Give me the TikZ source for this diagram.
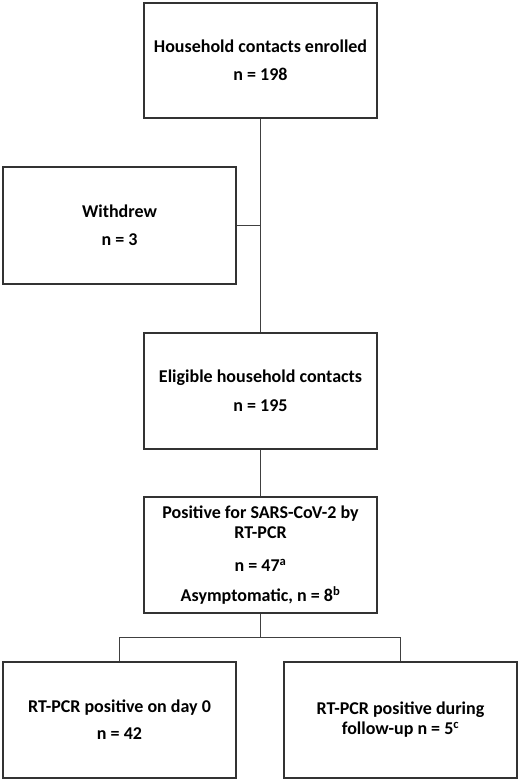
\documentclass[tikz,border=0pt]{standalone}
\usepackage{fontspec}
\setmainfont{Carlito}
\usetikzlibrary{calc}
\tikzset{
  flowbox/.style={draw=black!80, line width=1.3pt, minimum width=233pt, minimum height=116pt,
    inner sep=0pt, align=center, font=\fontsize{18}{20}\selectfont\bfseries},
  conn/.style={draw=black!75, line width=1.3pt}
}
\begin{document}
\begin{tikzpicture}[x=1pt,y=-1pt]
\useasboundingbox[fill=white] (0,0) rectangle (520,782);
\node[flowbox, minimum height=115pt] (b1) at (260.5,60.5) {Household contacts enrolled\\[8pt] n = 198};
\node[flowbox, minimum height=117pt] (b2) at (119.5,225.5) {Withdrew\\[8pt] n = 3};
\node[flowbox] (b3) at (260.5,391) {Eligible household contacts\\[9pt] n = 195};
\node[flowbox] (b4) at (260.5,555) {Positive for SARS-CoV-2 by\\ RT-PCR\\[13pt] n = 47\textsuperscript{a}\\[10pt] Asymptomatic, n = 8\textsuperscript{b}};
\node[flowbox] (b5) at (119.5,720) {RT-PCR positive on day 0\\[7pt] n = 42};
\node[flowbox] (b6) at (400.5,720) {RT-PCR positive during\\ follow-up n = 5\textsuperscript{c}};
\coordinate (j) at ($(b4.south)+(0,24)$);
\draw[conn] (b1.south) -- (b3.north);
\draw[conn] (b2.east) -- (b2.east -| b1.south);
\draw[conn] (b3.south) -- (b4.north);
\draw[conn] (b4.south) -- (j);
\draw[conn] (b5.north) |- (j) -| (b6.north);
\end{tikzpicture}
\end{document}
